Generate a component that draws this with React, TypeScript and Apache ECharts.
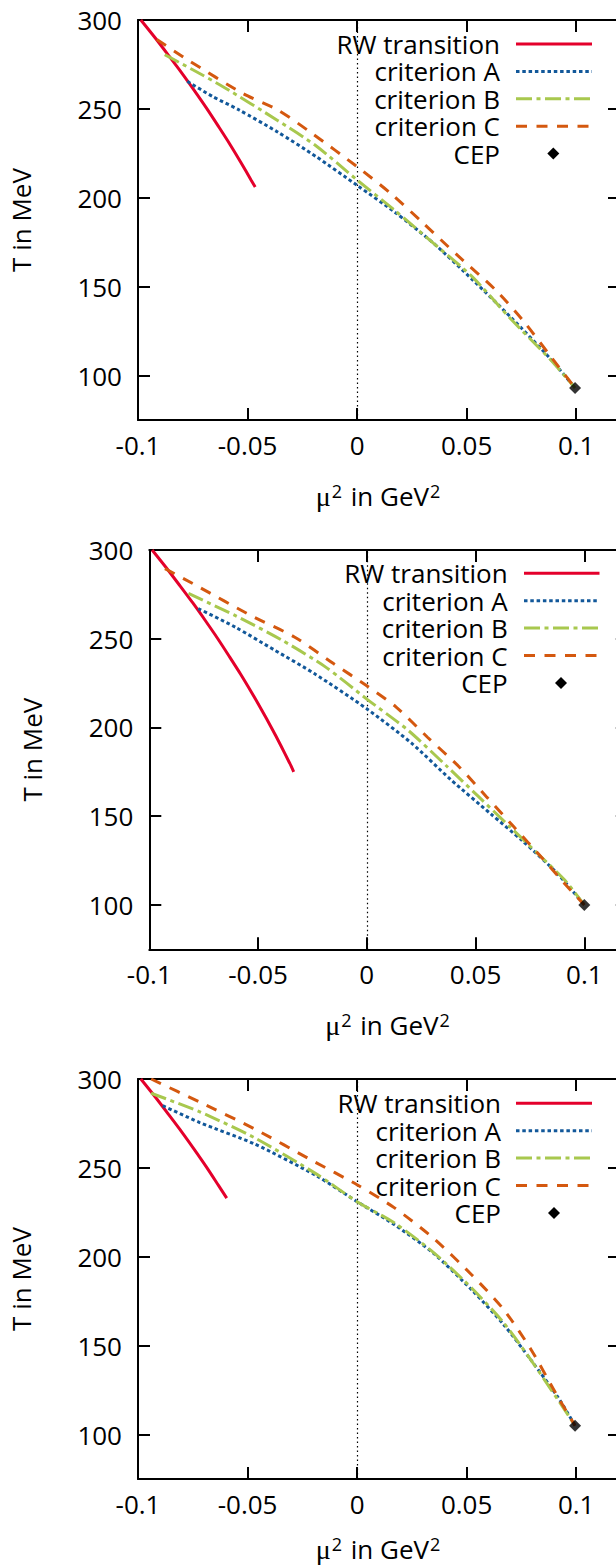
import React, { useEffect, useRef } from 'react';
import * as echarts from 'echarts';

// ---------- data ----------
const X_TICKS = [-0.1, -0.05, 0, 0.05, 0.1];
const Y_TICKS = [100, 150, 200, 250, 300];
const X_MIN = -0.1;
const X_MAX = 0.12;
const Y_MIN = 75;
const Y_MAX = 300;
const SERIES_NAMES = ['RW transition', 'criterion A', 'criterion B', 'criterion C', 'CEP'];
const X_TITLE_RICH = '{mu|μ}{sup|2}{t| in GeV}{sup|2}';
const Y_TITLE = 'T in MeV';

// panel 1
const rw1 = [[-0.0987, 300], [-0.0922, 290], [-0.086, 280], [-0.0799, 270], [-0.0741, 260], [-0.0685, 250], [-0.0632, 240], [-0.058, 230], [-0.0531, 220], [-0.0484, 210], [-0.0465, 206]];
const critA1 = [[-0.0775, 265.5], [-0.066, 257], [-0.054, 249.5], [-0.0363, 237], [-0.0185, 223], [0, 207], [0.0171, 192], [0.0348, 174.5], [0.0526, 154], [0.0704, 132.5], [0.0882, 109.5], [0.0995, 93]];
const critB1 = [[-0.0878, 280.5], [-0.075, 272], [-0.0612, 262.5], [-0.0363, 243.5], [-0.0185, 229], [0, 210], [0.0171, 193], [0.0348, 174.5], [0.0526, 155.5], [0.0704, 131.5], [0.0882, 109], [0.0995, 93]];
const critC1 = [[-0.0914, 289], [-0.0772, 277.5], [-0.0519, 258.5], [-0.0363, 249.5], [-0.0203, 236], [0, 217.5], [0.0153, 202.5], [0.0295, 186.5], [0.0455, 168], [0.0633, 148], [0.0757, 131], [0.0882, 111], [0.0995, 93]];
const cep1 = [[0.0995, 93]];

// panel 2
const rw2 = [[-0.0987, 300], [-0.0922, 290], [-0.086, 280], [-0.0799, 270], [-0.0741, 260], [-0.0685, 250], [-0.0632, 240], [-0.058, 230], [-0.0531, 220], [-0.0484, 210], [-0.0439, 200], [-0.0396, 190], [-0.0355, 180], [-0.0336, 175]];
const critA2 = [[-0.0775, 267], [-0.0604, 256.5], [-0.0423, 243.5], [-0.0243, 230.5], [0, 210.5], [0.0207, 191], [0.0387, 170.5], [0.0568, 151.5], [0.0712, 136.5], [0.0874, 118], [0.1, 100]];
const critB2 = [[-0.082, 275.5], [-0.0604, 263], [-0.0387, 249], [-0.0189, 234], [0, 216], [0.0189, 198.5], [0.0369, 178], [0.0514, 161], [0.0658, 144], [0.0802, 127], [0.091, 114], [0.1, 100]];
const critC2 = [[-0.0928, 289.5], [-0.0784, 280], [-0.0532, 263], [-0.0333, 251], [-0.0153, 236], [0, 223.5], [0.0135, 211.5], [0.0279, 194.5], [0.0423, 178], [0.055, 161], [0.0676, 144], [0.0802, 127], [0.091, 112], [0.1, 100]];
const cep2 = [[0.1, 100]];

// panel 3
const rw3 = [[-0.0987, 300], [-0.0922, 290], [-0.086, 280], [-0.0799, 270], [-0.0741, 260], [-0.0685, 250], [-0.0632, 240], [-0.0595, 233]];
const critA3 = [[-0.0887, 285], [-0.0718, 275.5], [-0.0469, 263.5], [-0.0185, 245.5], [0, 231], [0.0171, 218], [0.0348, 202], [0.0526, 181], [0.0668, 162], [0.0793, 142], [0.0917, 121], [0.0995, 105]];
const critB3 = [[-0.094, 292], [-0.0718, 281.5], [-0.0469, 267], [-0.0185, 246.5], [0, 231], [0.0171, 219], [0.0348, 202.5], [0.0526, 182], [0.0668, 163], [0.0793, 142], [0.0917, 119.5], [0.0995, 105]];
const critC3 = [[-0.094, 300], [-0.0718, 287], [-0.0469, 272], [-0.0203, 254], [0, 240.5], [0.0171, 227.5], [0.0348, 210.5], [0.0526, 189.5], [0.0668, 170.5], [0.0793, 148], [0.0917, 121], [0.0995, 105]];
const cep3 = [[0.0995, 105]];

const PANELS = [
  [rw1, critA1, critB1, critC1, cep1],
  [rw2, critA2, critB2, critC2, cep2],
  [rw3, critA3, critB3, critC3, cep3],
];

// ---------- styles / layout ----------
const FONT = '"Open Sans", "Noto Sans", sans-serif';
const FS = 26;
const COLORS = ['#e4002b', '#12589a', '#a8c84e', '#d4580f', '#000000'];
const DASHES: any[] = ['solid', [3.5, 2.8], [16, 4.5, 4, 4.5], [11, 9.5]];

const LAYOUT = [
  { left: 133, top: 20, width: 487, height: 400, xGap: 62, legendRight: 500, legendTop: 44, sx1: 516, sx2: 592, dx: 553.3 },
  { left: 149.3, top: 550, width: 478.5, height: 399.3, xGap: 62, legendRight: 507.7, legendTop: 573.3, sx1: 524, sx2: 599.5, dx: 561 },
  { left: 133, top: 1079, width: 487, height: 400, xGap: 56, legendRight: 501, legendTop: 1103.3, sx1: 516, sx2: 592, dx: 554 },
];
const ROW_GAP = 27.4;

const axisLineStyle = { color: '#000', width: 2 };

function buildOption() {
  const grid: any[] = [];
  const xAxis: any[] = [];
  const yAxis: any[] = [];
  const series: any[] = [];
  const graphic: any[] = [];

  PANELS.forEach((panel, p) => {
    const L = LAYOUT[p];
    grid.push({ left: L.left, top: L.top, width: L.width, height: L.height, containLabel: false });
    // bottom x axis
    xAxis.push({
      gridIndex: p, type: 'value', min: X_MIN, max: X_MAX, position: 'bottom',
      axisLine: { show: true, onZero: false, lineStyle: axisLineStyle },
      axisTick: { show: true, inside: true, length: 12, lineStyle: axisLineStyle, customValues: X_TICKS },
      axisLabel: { show: true, customValues: X_TICKS, margin: 12, fontSize: FS, fontFamily: FONT, color: '#000', formatter: (v: number) => String(v) },
      splitLine: { show: false },
      name: X_TITLE_RICH, nameLocation: 'middle', nameGap: L.xGap,
      nameTextStyle: {
        color: '#000',
        lineHeight: 28,
        rich: {
          mu: { fontFamily: '"Liberation Serif", serif', fontSize: 28, color: '#000', lineHeight: 28 },
          t: { fontFamily: FONT, fontSize: FS, color: '#000', lineHeight: 28 },
          sup: { fontFamily: FONT, fontSize: 18, color: '#000', verticalAlign: 'top', lineHeight: 18, padding: [0, 2, 0, 1] },
        },
      },
    });
    // top mirror axis
    xAxis.push({
      gridIndex: p, type: 'value', min: X_MIN, max: X_MAX, position: 'top',
      axisLine: { show: true, onZero: false, lineStyle: axisLineStyle },
      axisTick: { show: true, inside: true, length: 12, lineStyle: axisLineStyle, customValues: X_TICKS },
      axisLabel: { show: false },
      splitLine: { show: false },
    });
    // left y axis
    yAxis.push({
      gridIndex: p, type: 'value', min: Y_MIN, max: Y_MAX, position: 'left',
      axisLine: { show: true, onZero: false, lineStyle: axisLineStyle },
      axisTick: { show: true, inside: true, length: 12, lineStyle: axisLineStyle, customValues: Y_TICKS },
      axisLabel: { show: true, customValues: Y_TICKS, margin: 16, fontSize: FS, fontFamily: FONT, color: '#000' },
      splitLine: { show: false },
      name: Y_TITLE, nameLocation: 'middle', nameGap: 104, nameRotate: 90,
      nameTextStyle: { fontSize: FS, fontFamily: FONT, color: '#000' },
    });
    // right mirror axis
    yAxis.push({
      gridIndex: p, type: 'value', min: Y_MIN, max: Y_MAX, position: 'right',
      axisLine: { show: true, onZero: false, lineStyle: axisLineStyle },
      axisTick: { show: true, inside: true, length: 12, lineStyle: axisLineStyle, customValues: Y_TICKS },
      axisLabel: { show: false },
      splitLine: { show: false },
    });

    const xi = p * 2;
    const yi = p * 2;
    panel.forEach((data, k) => {
      if (k < 4) {
        const s: any = {
          type: 'line', name: SERIES_NAMES[k], xAxisIndex: xi, yAxisIndex: yi,
          data, showSymbol: false, symbol: 'none', smooth: 0.25,
          lineStyle: { color: COLORS[k], width: 3, type: DASHES[k] },
          z: 3 + k,
        };
        if (k === 0) {
          s.markLine = {
            silent: true, symbol: 'none', animation: false,
            label: { show: false },
            lineStyle: { color: '#000', width: 1.2, type: [1.5, 3] },
            data: [{ xAxis: 0 }],
            z: 1,
          };
        }
        series.push(s);
      } else {
        series.push({
          type: 'scatter', name: SERIES_NAMES[k], xAxisIndex: xi, yAxisIndex: yi,
          data, symbol: 'diamond', symbolSize: 12, itemStyle: { color: '#000' }, z: 10,
        });
      }
    });

    // legend (gnuplot style: text right-aligned, sample on the right)
    SERIES_NAMES.forEach((name, k) => {
      const y = L.legendTop + k * ROW_GAP;
      graphic.push({
        type: 'text', x: L.legendRight, y,
        style: { text: name, fontSize: FS, fontFamily: FONT, fill: '#000', align: 'right', verticalAlign: 'middle' },
        z: 100,
      });
      if (k < 4) {
        graphic.push({
          type: 'line', shape: { x1: L.sx1, y1: y, x2: L.sx2, y2: y },
          style: { stroke: COLORS[k], lineWidth: 3, lineDash: DASHES[k] === 'solid' ? null : DASHES[k] },
          z: 100,
        });
      } else {
        const d = 6;
        graphic.push({
          type: 'polygon',
          shape: { points: [[L.dx, y - d], [L.dx + d, y], [L.dx, y + d], [L.dx - d, y]] },
          style: { fill: '#000' },
          z: 100,
        });
      }
    });
  });

  return {
    animation: false,
    backgroundColor: '#ffffff',
    textStyle: { fontFamily: FONT },
    grid, xAxis, yAxis, series, graphic,
  };
}

export default function App() {
  const ref = useRef<HTMLDivElement>(null);
  useEffect(() => {
    if (!ref.current) return;
    const chart = echarts.init(ref.current, undefined, { renderer: 'svg' });
    chart.setOption(buildOption() as any);
    return () => chart.dispose();
  }, []);
  return (
    <div style={{ position: 'absolute', left: 0, top: 0, width: 616, height: 1568, overflow: 'hidden', background: '#fff' }}>
      <div ref={ref} style={{ width: 640, height: 1568 }} />
    </div>
  );
}
